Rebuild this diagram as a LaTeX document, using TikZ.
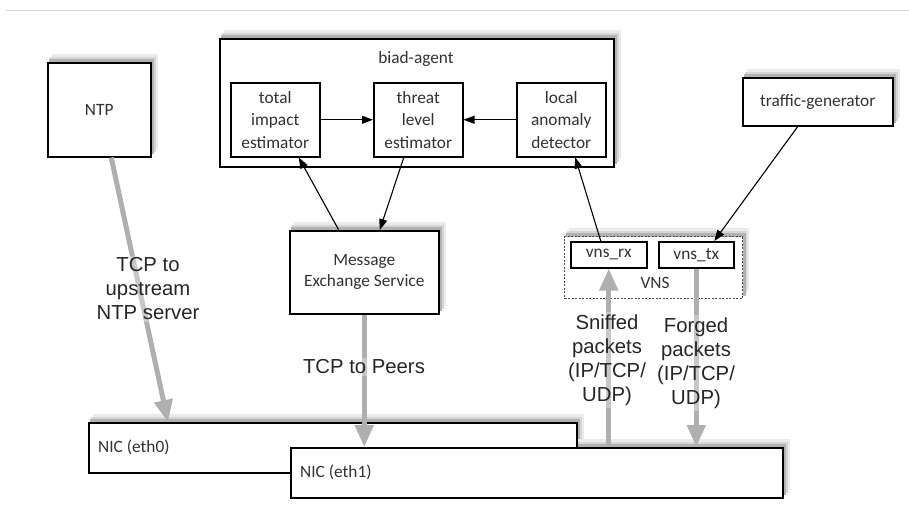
\documentclass[tikz,border=0pt]{standalone}
\usepackage{fontspec}
\setmainfont{Liberation Sans}
\newfontfamily\boxfont{Carlito}
\usetikzlibrary{arrows.meta,calc}
\pgfdeclarelayer{shadowlayer}
\pgfdeclarelayer{lblbg}
\pgfdeclarelayer{lblfaint}
\pgfdeclarelayer{lbltop}
\pgfsetlayers{shadowlayer,main,lblbg,lblfaint,lbltop}
\newcommand\bfnt{\boxfont\fontsize{17.3}{22.5}\selectfont}
\newcommand\lfnt{\fontsize{20.3}{24}\selectfont}
\definecolor{garr}{RGB}{175,175,175}
\definecolor{btext}{RGB}{50,50,50}
\newcommand\boxshadow[1]{%
  \fill[black!8]  ([shift={(5pt,8pt)}]#1.north west) rectangle ([shift={(6pt,9pt)}]#1.south east);
  \fill[black!16] ([shift={(3pt,5pt)}]#1.north west) rectangle ([shift={(4pt,6pt)}]#1.south east);
  \fill[black!30] ([shift={(2pt,3pt)}]#1.north west) rectangle ([shift={(2.5pt,3.5pt)}]#1.south east);}
\begin{document}
\begin{tikzpicture}[x=1pt,y=-1pt,
  bx/.style={draw=black, line width=1.5pt, fill=white, anchor=north west, inner sep=0pt,
             font=\bfnt, text=btext, align=center},
  garrow/.style={draw=garr, line width=5pt, -{Triangle[length=22pt,width=18pt]}},
  faint/.style={draw=garr!70, line width=5pt},
  barrow/.style={draw=black, line width=1.1pt, -{Triangle[length=11pt,width=8pt]}},
  lbl/.style={align=center, font=\lfnt, text=black!85, inner sep=1.5pt},
  btxt/.style={font=\bfnt, text=btext, inner sep=0pt, align=center}]
\useasboundingbox (0,0) rectangle (909,531);
\draw[gray!30, line width=0.8pt] (6,10) -- (909,10);

% boxes
\node[bx, minimum width=103pt, minimum height=94pt] (ntp) at (47,62) {NTP};
\node[bx, minimum width=394pt, minimum height=128pt] (agent) at (219,38) {};
\node[btxt] (agenttitle) at (416,59) {biad-agent};
\node[bx, minimum width=89pt, minimum height=74pt] (tie) at (230,82) {total\\impact\\estimator};
\node[bx, minimum width=89pt, minimum height=74pt] (tle) at (373,82) {threat\\level\\estimator};
\node[bx, minimum width=89pt, minimum height=74pt] (lad) at (516,82) {local\\anomaly\\detector};
\node[bx, minimum width=150pt, minimum height=48pt] (tg) at (742,77) {traffic-generator};
\node[bx, minimum width=149pt, minimum height=83pt, font=\boxfont\fontsize{17.3}{21}\selectfont] (mes) at (289,230) {Message\\Exchange Service};
\node[bx, draw=black!70, line width=1pt, dash pattern=on 2pt off 1.5pt, minimum width=178pt, minimum height=62pt] (vns) at (564,236) {};
\node[btxt] (vnstitle) at (655,283) {VNS};
\node[bx, minimum width=76pt, minimum height=26pt] (rx) at (570,241) {vns\_rx};
\node[bx, minimum width=75pt, minimum height=26pt] (tx) at (658,241) {vns\_tx};
\node[bx, minimum width=488pt, minimum height=50pt] (eth0) at (88,422) {};
\node[btxt, anchor=west] (eth0t) at ($(eth0.west)+(10,0)$) {NIC (eth0)};
\node[bx, minimum width=492pt, minimum height=50pt] (eth1) at (290,447) {};
\node[btxt, anchor=west] (eth1t) at ($(eth1.west)+(10,0)$) {NIC (eth1)};

\begin{pgfonlayer}{shadowlayer}
  \boxshadow{ntp}
  \boxshadow{agent}
  \boxshadow{tg}
  \boxshadow{mes}
  \boxshadow{vns}
  \boxshadow{eth0}
  \boxshadow{eth1}
\end{pgfonlayer}

% black connectors
\draw[barrow] (tie.east) -- (tle.west);
\draw[barrow] (lad.west) -- (tle.east);
\draw[barrow] ([xshift=-25.5pt]mes.north) -- ([xshift=23.5pt]tie.south);
\draw[barrow] ([xshift=-14.5pt]tle.south) -- ([xshift=15.5pt]mes.north);
\draw[barrow] ([xshift=-8pt]rx.north) -- ([xshift=14pt]lad.south);
\draw[barrow] ([xshift=-20pt]tg.south) -- ([xshift=18pt]tx.north);

% gray connectors
\coordinate (ntpA) at ([xshift=12pt]ntp.south);
\coordinate (ntpB) at ([xshift=80pt]eth0.north west);
\coordinate (mesA) at (mes.south);
\coordinate (mesB) at (mes.south |- eth1.north);
\coordinate (rxA) at (rx.south |- eth1.north);
\coordinate (rxB) at (rx.south);
\coordinate (txA) at (tx.south);
\coordinate (txB) at (tx.south |- eth1.north);
\draw[garrow] (ntpA) -- (ntpB);
\draw[garrow] (mesA) -- (mesB);
\draw[garrow] (rxA) -- (rxB);
\draw[garrow] (txA) -- (txB);

% labels
\begin{pgfonlayer}{lbltop}
\node[lbl] (lntp) at (148,289) {TCP to\\upstream\\NTP server};
\node[lbl] (lpeers) at (364,367) {TCP to Peers};
\node[lbl] (lsniff) at (607,360) {Sniffed\\packets\\(IP/TCP/\\UDP)};
\node[lbl] (lforged) at (696,363) {Forged\\packets\\(IP/TCP/\\UDP)};
\end{pgfonlayer}
\begin{pgfonlayer}{lblbg}
\foreach \n in {lntp,lpeers,lsniff,lforged}{\fill[white] (\n.north west) rectangle (\n.south east);}
\end{pgfonlayer}
\begin{pgfonlayer}{lblfaint}
\begin{scope}
\clip (lntp.north west) rectangle (lntp.south east);
\draw[faint] (ntpA) -- (ntpB);
\end{scope}
\begin{scope}
\clip (lpeers.north west) rectangle (lpeers.south east);
\draw[faint] (mesA) -- (mesB);
\end{scope}
\begin{scope}
\clip (lsniff.north west) rectangle (lsniff.south east);
\draw[faint] (rxA) -- (rxB);
\end{scope}
\begin{scope}
\clip (lforged.north west) rectangle (lforged.south east);
\draw[faint] (txA) -- (txB);
\end{scope}
\end{pgfonlayer}
\end{tikzpicture}
\end{document}
